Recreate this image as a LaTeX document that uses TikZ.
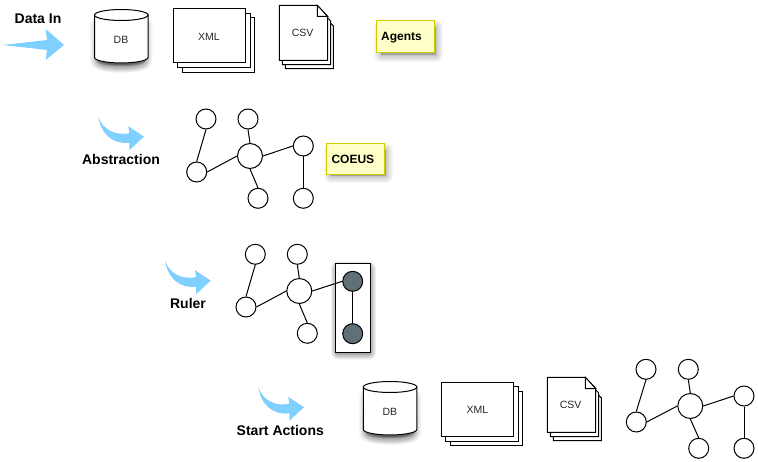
\documentclass[tikz,border=0pt]{standalone}
\usepackage{fontspec}
\setmainfont{Liberation Sans}
\definecolor{flow}{HTML}{7FD0FF}
\definecolor{note}{HTML}{FFFFC8}
\definecolor{noteline}{HTML}{CFCF00}
\definecolor{rulefill}{HTML}{5F7078}
\newcommand{\softshadow}[3]{% dx, dy, path
  \foreach \w in {14,12,10,8,6,4,2,0.5}
    \fill[black,shift={(#1,#2)},draw=black,line width=\w pt,line join=round,draw opacity=.03,fill opacity=.03] #3;
}
\newcommand{\cylshape}[3]{% scope shift x, y, name
  \begin{scope}[shift={(#1,#2)}]
    \softshadow{0}{5}{(97,20) -- (97,56) .. controls (97,59) and (108,61) .. (121.25,61) .. controls (135,61) and (145.5,59) .. (145.5,56) -- (145.5,20) -- cycle}
    \softshadow{0}{4}{(100,40) -- (100,56) .. controls (100,59) and (108,61) .. (121.25,61) .. controls (135,61) and (142.5,59) .. (142.5,56) -- (142.5,40) -- cycle}
    \draw[shapeline,fill=white] (94.5,15) -- (94.5,57.5) .. controls (94.5,60.5) and (106.5,63) .. (121.25,63) .. controls (136,63) and (148,60.5) .. (148,57.5) -- (148,15) -- cycle;
    \draw[shapeline,fill=white] (121.25,15) ellipse [x radius=26.75,y radius=5.5];
    \node[smalllabel] (#3) at (121,40) {DB};
  \end{scope}
}
\newcommand{\xmlshape}[3]{%
  \begin{scope}[shift={(#1,#2)}]
    \draw[shapeline,fill=white] (182,18) rectangle (254.5,72.5);
    \draw[shapeline,fill=white] (177.5,13.5) rectangle (250,68);
    \draw[shapeline,fill=white] (173,9) rectangle (245.5,63);
    \node[smalllabel] (#3) at (209,37) {XML};
  \end{scope}
}
\newcommand{\csvshape}[3]{%
  \begin{scope}[shift={(#1,#2)}]
    \draw[shapeline,fill=white] (285.3,15) -- (323,15) -- (333.3,26) -- (333.3,68.7) -- (285.3,68.7) -- cycle;
    \draw[shapeline,fill=white] (282.3,10) -- (320,10) -- (330.7,21) -- (330.7,64.7) -- (282.3,64.7) -- cycle;
    \draw[shapeline,fill=white] (279.3,5.3) -- (317.3,5.3) -- (327.7,16.5) -- (327.7,60.3) -- (279.3,60.3) -- cycle;
    \draw[shapeline,fill=white] (317.3,5.3) -- (317.3,16.5) -- (327.7,16.5) -- cycle;
    \node[smalllabel] (#3) at (302.7,33) {CSV};
  \end{scope}
}
\newcommand{\curvedflow}[2]{%
  \fill[flow,shift={(#1,#2)}] (0,0) .. controls (5,14) and (18,19) .. (31,16.5) -- (30,9.5) -- (45.7,20) -- (31,33.5) -- (31,26) .. controls (15,28) and (3,18) .. (0,0) -- cycle;
}
\tikzset{
  shapeline/.style={draw=black,line width=1pt},
  smalllabel/.style={font=\fontsize{10.5}{12}\selectfont,text=black!85,inner sep=0pt},
  steplabel/.style={font=\fontsize{14}{16}\selectfont\bfseries,inner sep=0pt},
  notelabel/.style={font=\fontsize{12}{14}\selectfont\bfseries,inner sep=0pt,anchor=west},
  vertex/.style={circle,draw=black,line width=1pt,fill=white,minimum size=20pt,inner sep=0pt},
  hub/.style={vertex,minimum size=25pt},
  ruled/.style={vertex,fill=rulefill},
  edge/.style={black,line width=1pt}
}
\begin{document}
\begin{tikzpicture}[x=1pt,y=-1pt]
\useasboundingbox (0,0) rectangle (758,462);
% Data In
\fill[flow] (3,45) -- (47,40) -- (45.7,29) -- (64,45) -- (45.7,60) -- (47,50) -- cycle;
\node[steplabel] (datain) at (38,19) {Data In};
\cylshape{0}{0}{db1}
\xmlshape{0}{0}{xml1}
\csvshape{0}{0}{csv1}
\softshadow{3}{4}{(378,23) rectangle (433,51)}
\draw[draw=noteline,fill=note,line width=1pt] (376,20.3) rectangle (434.7,52.7);
\node[notelabel] (agents) at (381,37.7) {Agents};
% Abstraction
\curvedflow{98.3}{116.7}
\node[steplabel] (abstraction) at (121,159.3) {Abstraction};
\node[vertex] (a1) at (206,119) {};
\node[vertex] (a2) at (248,119) {};
\node[hub] (a3) at (250,156) {};
\node[vertex] (a4) at (303.3,146) {};
\node[vertex] (a5) at (196.7,172) {};
\node[vertex] (a6) at (258,198.3) {};
\node[vertex] (a7) at (303.3,198.3) {};
\draw[edge] (a1.south) -- (a5.north);
\draw[edge] (a2.south) -- (a3.north);
\draw[edge] (a5.east) -- (a3.west);
\draw[edge] (a3.east) -- (a4.west);
\draw[edge] (a3.south) -- (a6.north);
\draw[edge] (a4.south) -- (a7.north);
\softshadow{3}{4}{(328,146) rectangle (383,172)}
\draw[draw=noteline,fill=note,line width=1pt] (326.3,143.3) rectangle (384.7,174.3);
\node[notelabel] (coeus) at (331.3,159.3) {COEUS};
% Ruler
\curvedflow{165}{260.7}
\node[steplabel] (ruler) at (188,303.3) {Ruler};
\softshadow{0}{3}{(338,266) rectangle (368.5,350)}
\softshadow{0}{2}{(338,266) rectangle (368.5,350)}
\draw[shapeline,fill=white] (335.7,263.3) rectangle (370.7,352.7);
\node[vertex] (r1) at (255.3,254.3) {};
\node[vertex] (r2) at (297.3,254.3) {};
\node[hub] (r3) at (299.3,291) {};
\node[ruled] (r4) at (352.7,281.3) {};
\node[vertex] (r5) at (246,307) {};
\node[vertex] (r6) at (307.3,333.3) {};
\node[ruled] (r7) at (352.7,333.7) {};
\draw[edge] (r1.south) -- (r5.north);
\draw[edge] (r2.south) -- (r3.north);
\draw[edge] (r5.east) -- (r3.west);
\draw[edge] (r3.east) -- (r4.west);
\draw[edge] (r3.south) -- (r6.north);
\draw[edge] (r4.south) -- (r7.north);
% Start Actions
\curvedflow{258.3}{387.3}
\node[steplabel] (start) at (280.3,430) {Start Actions};
\cylshape{268.8}{372}{db2}
\xmlshape{268.3}{373.3}{xml2}
\csvshape{268}{372}{csv2}
\node[vertex] (s1) at (646,369.3) {};
\node[vertex] (s2) at (688.3,369.3) {};
\node[hub] (s3) at (690.3,406) {};
\node[vertex] (s4) at (744,396) {};
\node[vertex] (s5) at (636.3,422) {};
\node[vertex] (s6) at (698.7,448.3) {};
\node[vertex] (s7) at (744,448.3) {};
\draw[edge] (s1.south) -- (s5.north);
\draw[edge] (s2.south) -- (s3.north);
\draw[edge] (s5.east) -- (s3.west);
\draw[edge] (s3.east) -- (s4.west);
\draw[edge] (s3.south) -- (s6.north);
\draw[edge] (s4.south) -- (s7.north);
\end{tikzpicture}
\end{document}
